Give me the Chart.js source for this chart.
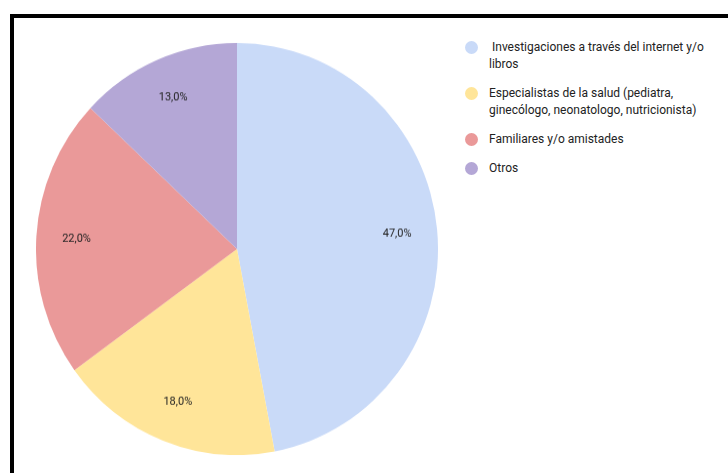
<!DOCTYPE html>
<html>
<head>
<meta charset="utf-8">
<script src="https://cdn.jsdelivr.net/npm/chart.js@4.4.1/dist/chart.umd.min.js"></script>
<style>
  html, body { margin: 0; padding: 0; background: #fff; }
  body { width: 728px; height: 473px; position: relative; overflow: hidden; font-family: Roboto, "Noto Sans", sans-serif; }
  #frame { position: absolute; left: 10px; top: 14px; right: -10px; bottom: -10px;
           border-left: 4px solid #000; border-top: 4px solid #000; }
  /* the reference pie is a touch taller than wide */
  #pieBox { position: absolute; left: 36px; top: 48px; width: 402px; height: 402px;
            transform: scaleY(1.025); transform-origin: 50% 50%; }
  #legend { position: absolute; left: 465px; top: 39px; width: 260px; font-size: 12px; color: #222; }
  #legend .item { position: relative; padding-left: 24px; line-height: 17px; margin-bottom: 12px; white-space: pre-wrap; }
  #legend .dot { position: absolute; left: 0; top: 2px; width: 13px; height: 13px; border-radius: 50%; }
</style>
</head>
<body>
<div id="frame"></div>
<div id="pieBox"><canvas id="c"></canvas></div>
<div id="legend"></div>
<script>
  // data
  var labels = [
    ' Investigaciones a través del internet y/o libros',
    'Especialistas de la salud (pediatra, ginecólogo, neonatologo, nutricionista)',
    'Familiares y/o amistades',
    'Otros'
  ];
  var values = [47.0, 18.0, 22.0, 13.0];
  var colors = ['#c9daf8', '#ffe599', '#ea9999', '#b4a7d6'];

  var FONT = 'Roboto, "Noto Sans", sans-serif';

  // percentage labels inside the slices
  var sliceLabels = {
    id: 'sliceLabels',
    afterDatasetsDraw: function (chart) {
      var ctx = chart.ctx;
      var meta = chart.getDatasetMeta(0);
      var total = values.reduce(function (a, b) { return a + b; }, 0);
      ctx.save();
      ctx.font = '11px ' + FONT;
      ctx.fillStyle = '#222';
      ctx.textAlign = 'center';
      ctx.textBaseline = 'middle';
      meta.data.forEach(function (arc, i) {
        var mid = (arc.startAngle + arc.endAngle) / 2;
        var r = arc.outerRadius * 0.8;
        var txt = (values[i] / total * 100).toFixed(1).replace('.', ',') + '%';
        ctx.fillText(txt, arc.x + Math.cos(mid) * r, arc.y + Math.sin(mid) * r);
      });
      ctx.restore();
    }
  };

  new Chart(document.getElementById('c').getContext('2d'), {
    type: 'pie',
    data: { labels: labels, datasets: [{
      data: values, backgroundColor: colors, borderWidth: 0
    }]},
    options: {
      responsive: true,
      maintainAspectRatio: false,
      animation: false,
      layout: { padding: 0 },
      plugins: { legend: { display: false }, tooltip: { enabled: false } }
    },
    plugins: [sliceLabels]
  });

  // legend on the right
  var lg = document.getElementById('legend');
  labels.forEach(function (l, i) {
    var item = document.createElement('div');
    item.className = 'item';
    var dot = document.createElement('span');
    dot.className = 'dot';
    dot.style.background = colors[i];
    item.appendChild(dot);
    item.appendChild(document.createTextNode(l));
    lg.appendChild(item);
  });
</script>
</body>
</html>
